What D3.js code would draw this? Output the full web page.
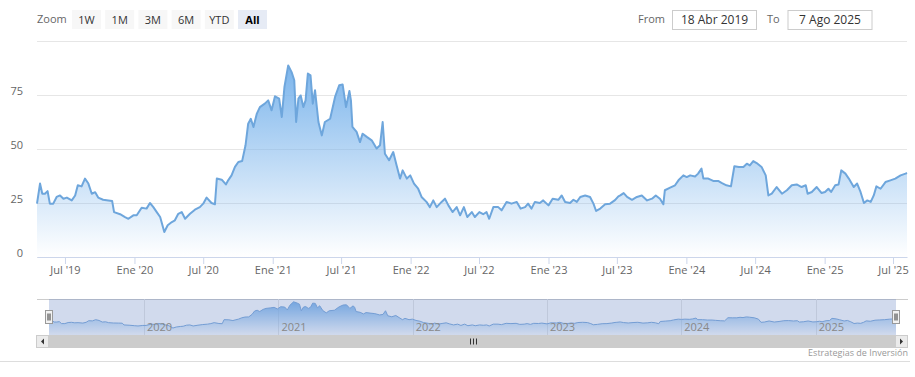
<!DOCTYPE html>
<html lang="es">
<head>
    <meta charset="UTF-8">
    <title>Cotización - Estrategias de Inversión</title>
    <script src="https://d3js.org/d3.v7.min.js"></script>
    <style>
        body, html {
            margin: 0;
            padding: 0;
            background: #fff;
            overflow: hidden;
        }
        svg {
            display: block;
            font-family: 'Open Sans', sans-serif;
        }
    </style>
</head>
<body>
<svg id="chart" width="915" height="377"></svg>
<script>

// Price series, split by year
const prices2019 = [
    ["2019-04-18", 24.7], ["2019-04-26", 34], ["2019-05-02", 29.3], ["2019-05-09", 29.3], ["2019-05-16", 30.5],
    ["2019-05-22", 24.7], ["2019-05-31", 24.7], ["2019-06-09", 27.8], ["2019-06-18", 28.5], ["2019-06-27", 27],
    ["2019-07-06", 27.5], ["2019-07-19", 26.2], ["2019-07-28", 28.5], ["2019-08-04", 33.2], ["2019-08-14", 32.7],
    ["2019-08-23", 36.3], ["2019-09-01", 34], ["2019-09-10", 29.3], ["2019-09-19", 30], ["2019-09-27", 27.5],
    ["2019-10-10", 26.5], ["2019-10-24", 26.2], ["2019-11-03", 25.9], ["2019-11-08", 20.8], ["2019-11-24", 19.8],
    ["2019-12-07", 18.5], ["2019-12-16", 17.7], ["2019-12-29", 19.3]
];
const prices2020 = [
    ["2020-01-07", 19.3], ["2020-01-20", 22.8], ["2020-02-02", 22.4], ["2020-02-11", 25], ["2020-02-20", 23.1],
    ["2020-02-29", 20.8], ["2020-03-09", 18.5], ["2020-03-20", 11.6], ["2020-03-29", 14.7], ["2020-04-09", 16.2],
    ["2020-04-17", 17], ["2020-04-26", 20], ["2020-05-05", 20.8], ["2020-05-14", 17.7], ["2020-05-27", 20],
    ["2020-06-09", 21.9], ["2020-06-22", 23.1], ["2020-07-01", 24.7], ["2020-07-10", 27.5], ["2020-07-23", 25],
    ["2020-08-01", 24.4], ["2020-08-06", 36.3], ["2020-08-19", 35.8], ["2020-08-30", 33.6], ["2020-09-05", 35.5],
    ["2020-09-14", 37.8], ["2020-09-23", 41.7], ["2020-10-02", 44], ["2020-10-12", 44.4], ["2020-10-21", 51.7],
    ["2020-10-28", 61.7], ["2020-11-04", 64], ["2020-11-11", 60.2], ["2020-11-20", 66.4], ["2020-11-28", 69.4],
    ["2020-12-11", 71], ["2020-12-20", 72.5], ["2020-12-29", 67.9]
];
const prices2021 = [
    ["2021-01-07", 74.4], ["2021-01-18", 73.3], ["2021-01-25", 64.8], ["2021-02-01", 78.7], ["2021-02-11", 88.7],
    ["2021-02-20", 85.6], ["2021-02-27", 81.8], ["2021-03-04", 62.5], ["2021-03-10", 73.3], ["2021-03-16", 74.8],
    ["2021-03-23", 69.4], ["2021-03-29", 72.5], ["2021-04-04", 84.9], ["2021-04-11", 84.1], ["2021-04-17", 71],
    ["2021-04-23", 77.2], ["2021-05-02", 62.5], ["2021-05-11", 56.3], ["2021-05-19", 62.5], ["2021-06-02", 64],
    ["2021-06-15", 74.1], ["2021-06-26", 79.5], ["2021-07-05", 79.9], ["2021-07-14", 69.4], ["2021-07-23", 76.9],
    ["2021-07-27", 72.5], ["2021-07-31", 60.2], ["2021-08-11", 57.9], ["2021-08-20", 53.2], ["2021-08-27", 57.1],
    ["2021-09-07", 55.6], ["2021-09-20", 54], ["2021-10-03", 50.2], ["2021-10-12", 51.7], ["2021-10-19", 62.5],
    ["2021-10-25", 47.8], ["2021-11-05", 44.8], ["2021-11-16", 48.6], ["2021-11-25", 42.4], ["2021-12-04", 36.3],
    ["2021-12-11", 40.1], ["2021-12-22", 36.3], ["2021-12-31", 37.8]
];
const prices2022 = [
    ["2022-01-10", 34], ["2022-01-21", 31.6], ["2022-01-30", 27.8], ["2022-02-12", 25.5], ["2022-02-21", 23.1],
    ["2022-03-02", 26.2], ["2022-03-11", 23.1], ["2022-03-24", 25.5], ["2022-04-02", 27], ["2022-04-11", 23.9],
    ["2022-04-22", 20.8], ["2022-05-03", 23.1], ["2022-05-12", 19.3], ["2022-05-22", 23.1], ["2022-05-31", 18.5],
    ["2022-06-12", 20.8], ["2022-06-20", 18.5], ["2022-07-02", 20.8], ["2022-07-12", 19.8], ["2022-07-21", 20.8],
    ["2022-07-28", 17.7], ["2022-08-08", 23.1], ["2022-08-21", 23.1], ["2022-08-30", 21.6], ["2022-09-12", 25.5],
    ["2022-09-25", 24.7], ["2022-10-09", 25.5], ["2022-10-19", 22.4], ["2022-10-31", 23.1], ["2022-11-08", 24.7],
    ["2022-11-17", 22.4], ["2022-11-26", 25.5], ["2022-12-09", 25], ["2022-12-18", 26.2]
];
const prices2023 = [
    ["2023-01-01", 23.9], ["2023-01-12", 27], ["2023-01-27", 26.5], ["2023-02-05", 28.5], ["2023-02-14", 25.5],
    ["2023-02-27", 25], ["2023-03-08", 26.5], ["2023-03-17", 25.5], ["2023-03-26", 27.8], ["2023-04-08", 28.5],
    ["2023-04-21", 27.8], ["2023-04-30", 24.7], ["2023-05-07", 21.3], ["2023-05-18", 22.4], ["2023-05-31", 24.4],
    ["2023-06-13", 24.7], ["2023-06-26", 26.3], ["2023-07-05", 28.1], ["2023-07-10", 28.5], ["2023-07-19", 29.6],
    ["2023-07-28", 27.8], ["2023-08-10", 26.5], ["2023-08-23", 27.8], ["2023-09-05", 28.5], ["2023-09-19", 26.2],
    ["2023-10-02", 27], ["2023-10-12", 28.5], ["2023-10-23", 27], ["2023-11-01", 24.4], ["2023-11-05", 30.9],
    ["2023-11-19", 32.1], ["2023-12-02", 33.2], ["2023-12-11", 35.5], ["2023-12-24", 37.8]
];
const prices2024 = [
    ["2024-01-02", 37], ["2024-01-11", 37.8], ["2024-01-24", 37.3], ["2024-02-01", 38.6], ["2024-02-10", 40.9],
    ["2024-02-15", 36.3], ["2024-02-28", 36.3], ["2024-03-12", 35.2], ["2024-03-25", 35.2], ["2024-04-03", 34.3],
    ["2024-04-16", 33.2], ["2024-04-28", 32.7], ["2024-05-07", 42], ["2024-05-19", 41.7], ["2024-05-31", 41.7],
    ["2024-06-09", 43.2], ["2024-06-17", 42.4], ["2024-06-26", 44.4], ["2024-07-05", 43.5], ["2024-07-18", 41.7],
    ["2024-07-29", 37.8], ["2024-08-05", 28.5], ["2024-08-14", 29.3], ["2024-08-27", 32.4], ["2024-09-10", 29.3],
    ["2024-09-23", 30.9], ["2024-10-06", 33.2], ["2024-10-19", 33.6], ["2024-11-01", 32.4], ["2024-11-12", 33.2],
    ["2024-11-17", 29.3], ["2024-11-28", 30.1], ["2024-12-11", 32.4], ["2024-12-24", 29.6]
];
const prices2025 = [
    ["2025-01-02", 30.1], ["2025-01-11", 31.6], ["2025-01-18", 30.1], ["2025-01-29", 33.2], ["2025-02-07", 33.6],
    ["2025-02-14", 40.1], ["2025-02-25", 38.6], ["2025-03-06", 36.3], ["2025-03-19", 32.4], ["2025-03-28", 34],
    ["2025-04-06", 30.1], ["2025-04-15", 25], ["2025-04-24", 26.2], ["2025-05-03", 25.5], ["2025-05-11", 28.5],
    ["2025-05-18", 32.7], ["2025-05-29", 31.6], ["2025-06-11", 34.7], ["2025-06-24", 35.5], ["2025-07-07", 36.3],
    ["2025-07-21", 37.8], ["2025-08-03", 38.6], ["2025-08-07", 38.9]
];

const yTicks = [0, 25, 50, 75, 100];
const xTickDates = ["2019-07-01", "2020-01-01", "2020-07-01", "2021-01-01", "2021-07-01", "2022-01-01", "2022-07-01",
    "2023-01-01", "2023-07-01", "2024-01-01", "2024-07-01", "2025-01-01", "2025-07-01"];
const xTickLabels = ["Jul '19", "Ene '20", "Jul '20", "Ene '21", "Jul '21", "Ene '22", "Jul '22",
    "Ene '23", "Jul '23", "Ene '24", "Jul '24", "Ene '25", "Jul '25"];
const navYearDates = ["2020-01-01", "2021-01-01", "2022-01-01", "2023-01-01", "2024-01-01", "2025-01-01"];
const navYearLabels = ["2020", "2021", "2022", "2023", "2024", "2025"];
const zoomButtons = ["1W", "1M", "3M", "6M", "YTD", "All"];
const rangeStart = "2019-04-18", rangeEnd = "2025-08-07";
const rangeLabels = ["18 Abr 2019", "7 Ago 2025"];
const credits = "Estrategias de Inversión";

const parse = d3.timeParse("%Y-%m-%d");
const data = [...prices2019, ...prices2020, ...prices2021, ...prices2022, ...prices2023, ...prices2024, ...prices2025]
    .map(([d, v]) => ({date: parse(d), value: v}));

const svg = d3.select("#chart");
const color = "#7cb5ec";

// main plot area
const plot = {left: 37, right: 907, top: 41, bottom: 257};
const x = d3.scaleTime().domain([parse(rangeStart), parse(rangeEnd)]).range([plot.left, plot.right]);
const y = d3.scaleLinear().domain([0, 100]).range([plot.bottom, plot.top]);

// navigator area
const nav = {left: 49, right: 896, top: 299, bottom: 335};
const nx = d3.scaleTime().domain(x.domain()).range([nav.left, nav.right]);
const ny = d3.scaleLinear().domain([0, 100]).range([332, 298]);

const maxVal = d3.max(data, d => d.value);
const defs = svg.append("defs");
function gradient(id, y1, y2) {
    const g = defs.append("linearGradient").attr("id", id)
        .attr("gradientUnits", "userSpaceOnUse")
        .attr("x1", 0).attr("x2", 0).attr("y1", y1).attr("y2", y2);
    g.append("stop").attr("offset", 0).attr("stop-color", color).attr("stop-opacity", 1);
    g.append("stop").attr("offset", 1).attr("stop-color", color).attr("stop-opacity", 0);
}
gradient("mainFill", y(maxVal), y(0));
gradient("navFill", ny(maxVal), nav.bottom);

// y grid + labels
const yAxis = svg.append("g")
    .attr("transform", `translate(${plot.left},0)`)
    .call(d3.axisLeft(y).tickValues(yTicks).tickSize(-(plot.right - plot.left)).tickPadding(14)
        .tickFormat(d => d === 100 ? "" : d));
yAxis.select(".domain").remove();
yAxis.selectAll("line").attr("stroke", "#e6e6e6");
yAxis.selectAll("text").attr("fill", "#666").attr("font-size", 11).attr("dy", -1)
    .attr("font-family", "'Open Sans', sans-serif");

// series
svg.append("path").datum(data)
    .attr("fill", "url(#mainFill)")
    .attr("d", d3.area().x(d => x(d.date)).y0(y(0)).y1(d => y(d.value)));
svg.append("path").datum(data)
    .attr("fill", "none").attr("stroke", "#6ea6dc").attr("stroke-width", 2).attr("stroke-linejoin", "round")
    .attr("d", d3.line().x(d => x(d.date)).y(d => y(d.value)));

// x axis
const xAxis = svg.append("g")
    .attr("transform", `translate(0,${plot.bottom})`)
    .call(d3.axisBottom(x).tickValues(xTickDates.map(parse)).tickSize(7).tickSizeOuter(0).tickPadding(2)
        .tickFormat((d, i) => xTickLabels[i]));
xAxis.select(".domain").attr("stroke", "#ccd6eb");
xAxis.selectAll("line").attr("stroke", "#ccd6eb");
xAxis.selectAll("text").attr("fill", "#666").attr("font-size", 11)
    .attr("font-family", "'Open Sans', sans-serif");

// range selector buttons
svg.append("text").attr("x", 37).attr("y", 23).attr("font-size", 11).attr("fill", "#666").text("Zoom");
const btn = svg.selectAll(".btn").data(zoomButtons).join("g")
    .attr("class", "btn")
    .attr("transform", (d, i) => `translate(${72 + i * 33.2},10)`);
btn.append("rect").attr("width", 29).attr("height", 19)
    .attr("fill", d => d === "All" ? "#e6ebf5" : "#f7f7f7");
btn.append("text").attr("x", 14.5).attr("y", 13.5).attr("text-anchor", "middle")
    .attr("font-size", 11).attr("fill", d => d === "All" ? "#000" : "#333")
    .attr("font-weight", d => d === "All" ? "bold" : "normal")
    .text(d => d);

// from / to inputs
svg.append("text").attr("x", 638).attr("y", 23).attr("font-size", 11).attr("fill", "#666").text("From");
svg.append("text").attr("x", 767).attr("y", 23).attr("font-size", 11).attr("fill", "#666").text("To");
[672, 787.5].forEach((bx, i) => {
    svg.append("rect").attr("x", bx + 0.5).attr("y", 10.5).attr("width", 84).attr("height", 19)
        .attr("fill", "#fff").attr("stroke", "#cccccc");
    svg.append("text").attr("x", bx + 42.5).attr("y", 24).attr("text-anchor", "middle")
        .attr("font-size", 12).attr("fill", "#333").text(rangeLabels[i]);
});

// navigator
svg.append("path").attr("d", `M${plot.left},${nav.top + 0.5}H${plot.right + 1}`)
    .attr("stroke", "#cccccc").attr("fill", "none");
svg.append("g").selectAll("line").data(navYearDates.map(parse)).join("line")
    .attr("x1", d => Math.round(nx(d)) + 0.5).attr("x2", d => Math.round(nx(d)) + 0.5)
    .attr("y1", nav.top).attr("y2", nav.bottom)
    .attr("stroke", "#e6e6e6");
svg.append("path").datum(data)
    .attr("fill", "url(#navFill)")
    .attr("d", d3.area().x(d => nx(d.date)).y0(nav.bottom).y1(d => ny(d.value)));
svg.append("path").datum(data)
    .attr("fill", "none").attr("stroke", "#7aa8db").attr("stroke-width", 1)
    .attr("d", d3.line().x(d => nx(d.date)).y(d => ny(d.value)));
svg.append("rect").attr("x", nav.left).attr("y", nav.top)
    .attr("width", nav.right - nav.left).attr("height", nav.bottom - nav.top)
    .attr("fill", "rgba(102,133,194,0.3)");
svg.append("g").selectAll("text").data(navYearDates.map(parse)).join("text")
    .attr("x", d => nx(d) + 3).attr("y", 331)
    .attr("font-size", 11).attr("fill", "#888")
    .text((d, i) => navYearLabels[i]);

// navigator handles
[nav.left, nav.right].forEach(hx => {
    const h = svg.append("g").attr("transform", `translate(${Math.round(hx) - 3.5},310.5)`);
    h.append("rect").attr("width", 7).attr("height", 13).attr("fill", "#f2f2f2").attr("stroke", "#999");
    h.append("path").attr("d", "M2.5,3V10M4.5,3V10").attr("stroke", "#333").attr("stroke-width", 1);
});

// scrollbar
const sb = {left: 36, right: 908, top: 335, h: 13};
svg.append("rect").attr("x", sb.left).attr("y", sb.top).attr("width", sb.right - sb.left).attr("height", sb.h)
    .attr("fill", "#f2f2f2");
svg.append("rect").attr("x", nav.left).attr("y", sb.top).attr("width", nav.right - nav.left).attr("height", sb.h)
    .attr("fill", "#cccccc");
[[sb.left, -1], [sb.right - sb.h, 1]].forEach(([bx, dir]) => {
    svg.append("rect").attr("x", bx + 0.5).attr("y", sb.top + 0.5).attr("width", sb.h - 1).attr("height", sb.h - 1)
        .attr("fill", "#ebebeb").attr("stroke", "#cccccc");
    const cx = bx + sb.h / 2, cy = sb.top + sb.h / 2;
    svg.append("path")
        .attr("d", `M${cx - dir * 1.5},${cy - 3}L${cx + dir * 1.5},${cy}L${cx - dir * 1.5},${cy + 3}Z`)
        .attr("fill", "#333");
});
const gx = Math.round((nav.left + nav.right) / 2);
svg.append("path").attr("d", `M${gx - 2.5},338.5V344.5M${gx + 0.5},338.5V344.5M${gx + 3.5},338.5V344.5`)
    .attr("stroke", "#333").attr("stroke-width", 1);

// credits + container border
svg.append("text").attr("x", 908).attr("y", 356).attr("text-anchor", "end")
    .attr("font-size", 9).attr("fill", "#999").text(credits);
svg.append("line").attr("x1", 0).attr("x2", 910).attr("y1", 361.5).attr("y2", 361.5).attr("stroke", "#dddddd");

</script>
</body>
</html>
